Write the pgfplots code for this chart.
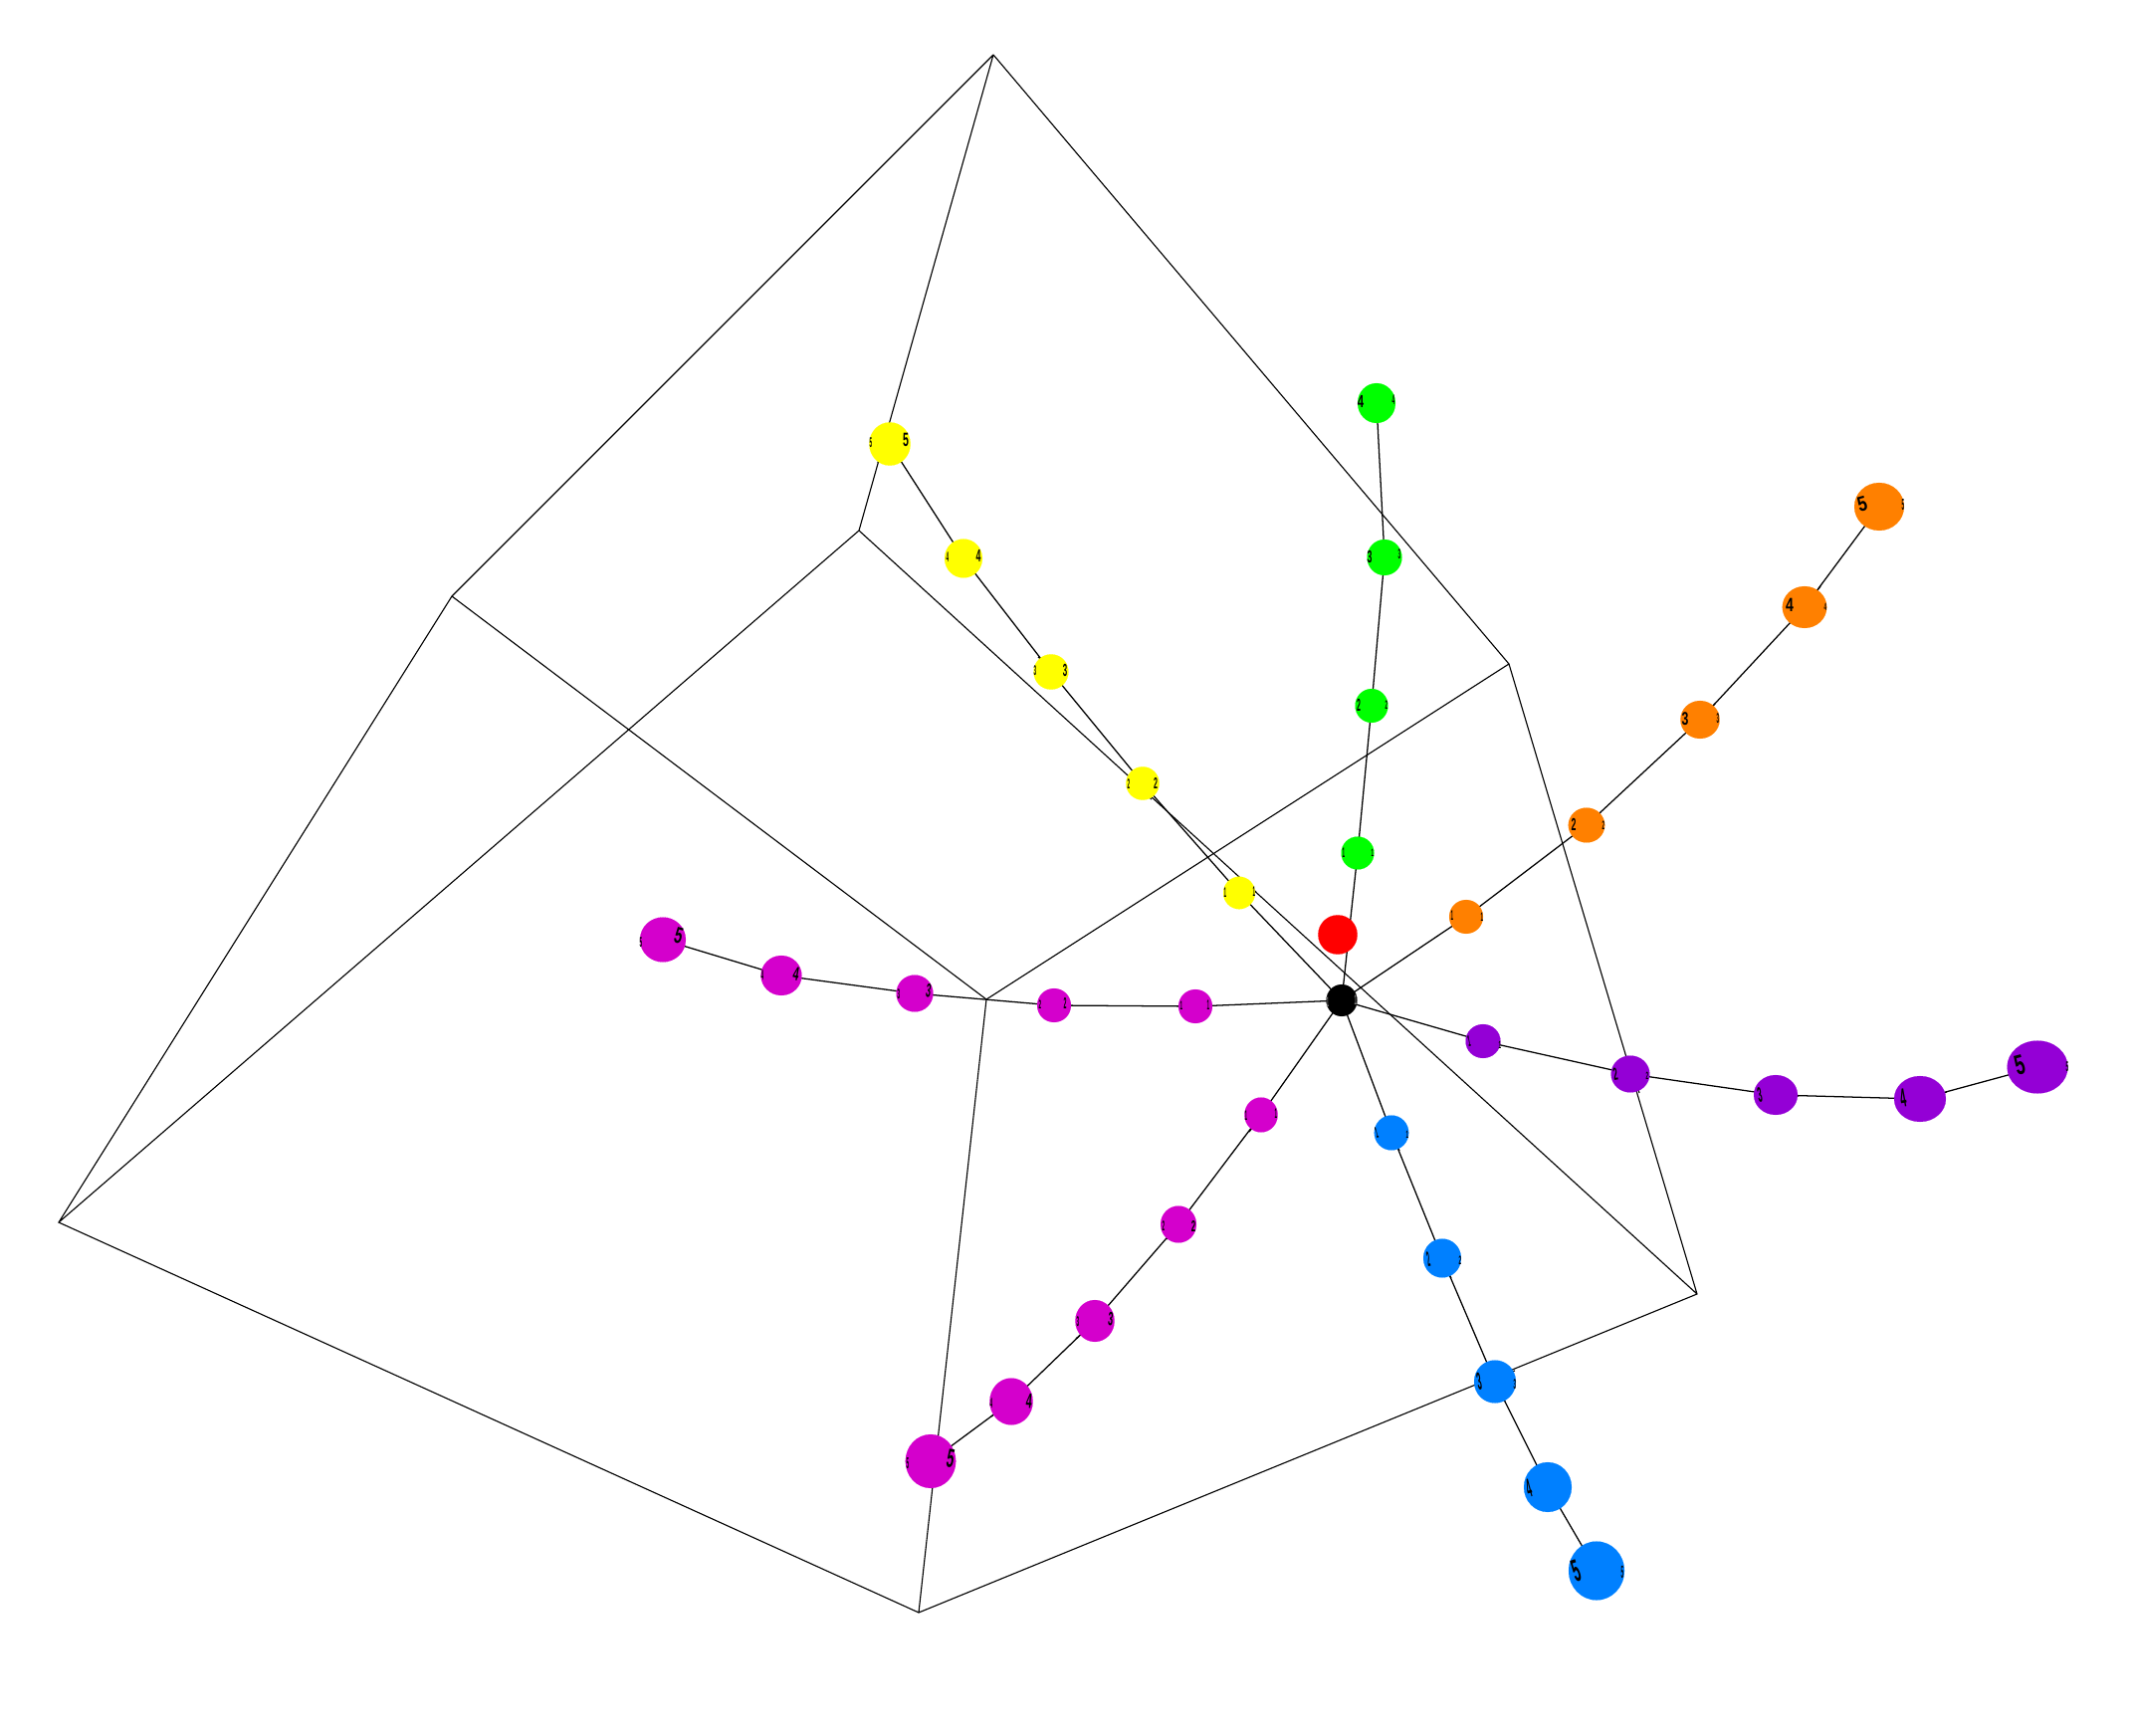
\documentclass[border=0pt]{standalone}
\usepackage{fontspec}
\setmainfont{Liberation Sans}
\usepackage{pgfplots}
\usepackage{pgfplotstable}
\pgfplotsset{compat=1.18}

\definecolor{cred}{HTML}{FF0000}
\definecolor{cgreen}{HTML}{00FF00}
\definecolor{cyellow}{HTML}{FFFF00}
\definecolor{corange}{HTML}{FF8000}
\definecolor{cpurple}{HTML}{9400D6}
\definecolor{cblue}{HTML}{0080FF}
\definecolor{cmagenta}{HTML}{D400CC}

% a digit squeezed onto a ball: x stretch, y stretch, rotation, digit
\protected\def\dg#1#2#3#4{\rotatebox{#3}{\scalebox{#1}[#2]{#4}}}

% ball centres and radii, in reference pixels
\pgfplotstableread{
x y rx ry
1473 921 17 17
1594 829 18.3 17.5
1708 723 19.7 19
1813 610 22.3 21
1888 509 25 24
}\orangeT
\pgfplotstableread{
x y rx ry
1364 857 16.5 16.5
1378 709 16.5 17
1391 560 17.5 18
1383 405 19 20
}\greenT
\pgfplotstableread{
x y rx ry
1245 897 16 16.3
1148 787 16.7 16.7
1056 675 17.5 17.7
968 561 19 19.5
894 446 20.7 21.7
}\yellowT
\pgfplotstableread{
x y rx ry
1490 1046 17.5 17
1638 1079 19.4 18.5
1784 1100 22 20
1929 1104 26 23
2047 1072 30.5 26.5
}\purpleT
\pgfplotstableread{
x y rx ry
1398 1138 17.3 17.5
1449 1264 19 19.5
1502 1388 21 21.5
1555 1494 24 25
1604 1578 28 29.5
}\blueT
\pgfplotstableread{
x y rx ry
1267 1120 16.7 17.5
1184 1230 18 18.5
1100 1327 19.7 21
1016 1408 21.7 23.5
935 1468 25.3 27
}\magentaT
\pgfplotstableread{
x y rx ry
1201 1011 17 17
1059 1010 17 17
919 998 18.5 18.5
785 980 20.5 20
666 944 23 22.5
}\magentaLT
\pgfplotstableread{
x y rx ry
1344 939 19.7 19.7
}\redT
\pgfplotstableread{
x y rx ry
1348 1005 15.5 16
}\blackT

\pgfplotsset{
  spoke/.style={black, line width=0.36pt, no markers},
  edge/.style={black, line width=0.32pt, no markers},
  ball/.style={
    only marks, mark=*, forget plot,
    mark options={draw=#1, fill=#1, line width=0.02pt},
    scatter, scatter src=explicit,
    visualization depends on={0.2845*\thisrow{rx} \as \ballrx},
    visualization depends on={0.2845*\thisrow{ry} \as \ballry},
    scatter/@pre marker code/.code={\scope[xscale=\ballrx, yscale=\ballry]},
    scatter/@post marker code/.code={\endscope},
    mark size=1pt,
  },
  digit/.style={
    draw=none, mark=none, forget plot,
    point meta=explicit symbolic,
    nodes near coords={\pgfplotspointmeta},
    every node near coord/.append style={anchor=center, inner sep=0pt, text=#1,
      font=\bfseries\fontsize{5}{5}\selectfont},
  },
}

\begin{document}
\begin{tikzpicture}
\path[use as bounding box] (0,0) rectangle (21.44cm,17.44cm);
\begin{axis}[
    at={(0,0)}, anchor=south west,
    scale only axis, width=21.44cm, height=17.44cm,
    xmin=0, xmax=2144, ymin=0, ymax=1744,
    y dir=reverse, hide axis, clip=false,
    unbounded coords=jump,
]
% the box
\addplot[edge] coordinates {
  (998,55) (454,599) (59,1228) (923,1620) (1705,1300) (1516,667) (998,55)
  (nan,nan) (998,55) (863,533) (59,1228)
  (nan,nan) (863,533) (1705,1300)
  (nan,nan) (454,599) (991,1004) (923,1620)
  (nan,nan) (991,1004) (1516,667)
};
% spokes from the centre
\addplot[spoke] coordinates {
  (1348,1005) (1473,921) (nan,nan)
  (1348,1005) (1364,857) (nan,nan)
  (1348,1005) (1245,897) (nan,nan)
  (1348,1005) (1490,1046) (nan,nan)
  (1348,1005) (1398,1138) (nan,nan)
  (1348,1005) (1267,1120) (nan,nan)
  (1348,1005) (1201,1011)
};
\addplot[spoke] table[x=x,y=y] {\orangeT};
\addplot[spoke] table[x=x,y=y] {\greenT};
\addplot[spoke] table[x=x,y=y] {\yellowT};
\addplot[spoke] table[x=x,y=y] {\purpleT};
\addplot[spoke] table[x=x,y=y] {\blueT};
\addplot[spoke] table[x=x,y=y] {\magentaT};
\addplot[spoke] table[x=x,y=y] {\magentaLT};
% balls
\addplot[ball=corange] table[x=x,y=y,meta=x] {\orangeT};
\addplot[ball=cgreen] table[x=x,y=y,meta=x] {\greenT};
\addplot[ball=cyellow] table[x=x,y=y,meta=x] {\yellowT};
\addplot[ball=cpurple] table[x=x,y=y,meta=x] {\purpleT};
\addplot[ball=cblue] table[x=x,y=y,meta=x] {\blueT};
\addplot[ball=cmagenta] table[x=x,y=y,meta=x] {\magentaT};
\addplot[ball=cmagenta] table[x=x,y=y,meta=x] {\magentaLT};
\addplot[ball=cred] table[x=x,y=y,meta=x] {\redT};
\addplot[ball=black] table[x=x,y=y,meta=x] {\blackT};
% pieces of line that run over the balls
\addplot[edge] coordinates {
  (893,425) (882,465) (nan,nan)
  (1133,781) (1157,803) (nan,nan)
  (1245,883) (1262,896) (nan,nan)
  (1635,1061) (1647,1098) (nan,nan)
  (1499,1385) (1522,1377)
};
\addplot[spoke] coordinates {
  (1800,1100) (1807,1101) (nan,nan)
  (1942,1101) (1956,1097) (nan,nan)
  (1507,1399) (1512,1408) (nan,nan)
  (1454,1277) (1458,1284) (nan,nan)
  (1404,1152) (1406,1156) (nan,nan)
  (1559,1497) (1570,1513) (nan,nan)
  (1822,598) (1829,589) (nan,nan)
  (1718,712) (1723,707) (nan,nan)
  (1606,819) (1608,816) (nan,nan)
  (1259,1132) (1255,1137) (nan,nan)
  (1176,1240) (1172,1245) (nan,nan)
  (1092,1335) (1081,1345) (nan,nan)
  (1008,1414) (996,1423) (nan,nan)
  (773,977) (765,975) (nan,nan)
  (904,997) (902,996) (nan,nan)
  (1047,663) (1043,660)
};
% digits on the balls
\addplot[digit=black] coordinates {
  (1459,920) [\dg{.26}{.8}{0}{1}]
  (1489,921) [\dg{.26}{.7}{0}{1}]
  (1581,828) [\dg{.5}{1}{0}{2}]
  (1611,829) [\dg{.26}{.7}{0}{2}]
  (1693,722) [\dg{.7}{1.05}{0}{3}]
  (1726,722) [\dg{.26}{.8}{0}{3}]
  (1798,608) [\dg{.8}{1.1}{0}{4}]
  (1834,610) [\dg{.26}{.6}{0}{4}]
  (1871,506) [\dg{.95}{1.2}{15}{5}]
  (1912,507) [\dg{.26}{.9}{0}{5}]
  (1476,1046) [\dg{.26}{.9}{10}{1}]
  (1507,1050) [\dg{.26}{.6}{0}{1}]
  (1623,1079) [\dg{.45}{1}{10}{2}]
  (1655,1081) [\dg{.26}{.6}{0}{2}]
  (1768,1100) [\dg{.45}{1.2}{10}{3}]
  (1912,1103) [\dg{.6}{1.5}{10}{4}]
  (2029,1070) [\dg{1}{1.6}{15}{5}]
  (2077,1072) [\dg{.26}{.8}{0}{5}]
  (1383,1138) [\dg{.26}{.9}{15}{1}]
  (1414,1140) [\dg{.26}{.6}{0}{1}]
  (1435,1265) [\dg{.3}{1.2}{10}{2}]
  (1467,1266) [\dg{.26}{.7}{0}{2}]
  (1486,1388) [\dg{.45}{1.4}{10}{3}]
  (1522,1391) [\dg{.26}{.8}{0}{3}]
  (1536,1495) [\dg{.5}{1.5}{15}{4}]
  (1584,1578) [\dg{.75}{1.8}{18}{5}]
  (1630,1580) [\dg{.26}{1}{0}{5}]
  (1350,857) [\dg{.26}{.8}{0}{1}]
  (1379,857) [\dg{.26}{.6}{0}{1}]
  (1365,708) [\dg{.4}{1}{0}{2}]
  (1393,708) [\dg{.26}{.7}{0}{2}]
  (1376,559) [\dg{.5}{1}{0}{3}]
  (1406,557) [\dg{.26}{.8}{0}{3}]
  (1367,403) [\dg{.65}{1}{0}{4}]
  (1400,402) [\dg{.26}{.8}{0}{4}]
  (1260,896) [\dg{.26}{.8}{0}{1}]
  (1231,897) [\dg{.26}{.8}{0}{1}]
  (1161,787) [\dg{.4}{.9}{0}{2}]
  (1134,788) [\dg{.26}{.8}{0}{2}]
  (1070,673) [\dg{.45}{1}{0}{3}]
  (1040,674) [\dg{.26}{.8}{0}{3}]
  (983,558) [\dg{.5}{1}{0}{4}]
  (952,560) [\dg{.26}{.8}{0}{4}]
  (910,442) [\dg{.6}{1.1}{0}{5}]
  (875,445) [\dg{.26}{.8}{0}{5}]
  (1282,1119) [\dg{.26}{.8}{0}{1}]
  (1252,1121) [\dg{.26}{.8}{0}{1}]
  (1199,1232) [\dg{.45}{.9}{0}{2}]
  (1169,1232) [\dg{.26}{.8}{0}{2}]
  (1116,1325) [\dg{.5}{1.1}{-5}{3}]
  (1083,1328) [\dg{.26}{.8}{0}{3}]
  (1034,1408) [\dg{.6}{1.2}{-5}{4}]
  (996,1410) [\dg{.26}{.8}{0}{4}]
  (955,1465) [\dg{.75}{1.5}{-10}{5}]
  (912,1470) [\dg{.26}{.9}{0}{5}]
  (682,940) [\dg{.8}{1.3}{-15}{5}]
  (644,947) [\dg{.26}{.8}{0}{5}]
  (800,978) [\dg{.6}{1.1}{-10}{4}]
  (766,980) [\dg{.26}{.8}{0}{4}]
  (933,995) [\dg{.5}{1.1}{-8}{3}]
  (903,999) [\dg{.26}{.8}{0}{3}]
  (1070,1008) [\dg{.3}{.9}{0}{2}]
  (1045,1009) [\dg{.26}{.7}{0}{2}]
  (1214,1010) [\dg{.26}{.8}{0}{1}]
  (1187,1010) [\dg{.26}{.7}{0}{1}]
};
\addplot[digit=gray] coordinates {
  (1334,1007) [\dg{.26}{.8}{0}{1}]
  (1362,1005) [\dg{.26}{.8}{0}{1}]
};
\end{axis}
\end{tikzpicture}
\end{document}
